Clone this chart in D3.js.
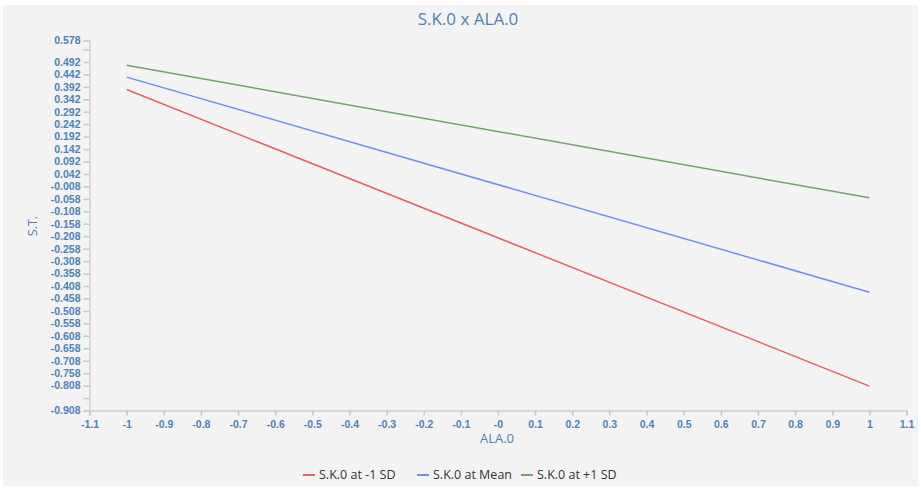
<!DOCTYPE html>
<html><head><meta charset="utf-8">
<script src="https://cdn.jsdelivr.net/npm/d3@7"></script>
<style>
html,body{margin:0;padding:0;background:#fff;}
svg{display:block;font-family:"Open Sans","Noto Sans",sans-serif;}
</style></head>
<body>
<svg id="chart" width="921" height="489"></svg>
<script>
const seriesNames = ["S.K.0 at -1 SD", "S.K.0 at Mean", "S.K.0 at +1 SD"];
const seriesColors = ["#e86060", "#7090f0", "#72a36c"];
const xValues = [-1, 1];
const lowValues = [0.381, -0.810];
const meanValues = [0.431, -0.433];
const highValues = [0.479, -0.054];
const yTickValues = [-0.908,-0.858,-0.808,-0.758,-0.708,-0.658,-0.608,-0.558,-0.508,-0.458,-0.408,-0.358,-0.308,-0.258,-0.208,-0.158,-0.108,-0.058,-0.008,0.042,0.092,0.142,0.192,0.242,0.292,0.342,0.392,0.442,0.492,0.542,0.578];
const yTickLabels = ["-0.908","","-0.808","-0.758","-0.708","-0.658","-0.608","-0.558","-0.508","-0.458","-0.408","-0.358","-0.308","-0.258","-0.208","-0.158","-0.108","-0.058","-0.008","0.042","0.092","0.142","0.192","0.242","0.292","0.342","0.392","0.442","0.492","","0.578"];
const xTickValues = [-1.1,-1,-0.9,-0.8,-0.7,-0.6,-0.5,-0.4,-0.3,-0.2,-0.1,0,0.1,0.2,0.3,0.4,0.5,0.6,0.7,0.8,0.9,1,1.1];
const xTickLabels = ["-1.1","-1","-0.9","-0.8","-0.7","-0.6","-0.5","-0.4","-0.3","-0.2","-0.1","-0","0.1","0.2","0.3","0.4","0.5","0.6","0.7","0.8","0.9","1","1.1"];

const txt = "#4d82b8";
const svg = d3.select("#chart");
svg.append("rect").attr("x",3).attr("y",5).attr("width",915).attr("height",481).attr("fill","#f3f3f3");

const x = d3.scaleLinear().domain([-1.1,1.1]).range([89.5,906.5]);
const y = d3.scaleLinear().domain([-0.908,0.578]).range([410.5,40.5]);

const yAxis = svg.append("g").attr("transform","translate(89.5,0)")
  .call(d3.axisLeft(y).tickValues(yTickValues).tickFormat((d,i)=>yTickLabels[i]).tickSize(6).tickPadding(3));
const xAxis = svg.append("g").attr("transform","translate(0,410.5)")
  .call(d3.axisBottom(x).tickValues(xTickValues).tickFormat((d,i)=>xTickLabels[i]).tickSize(5).tickPadding(5));
[yAxis,xAxis].forEach(g=>{
  g.select(".domain").attr("stroke","#d0d0d0").attr("stroke-width",1.5);
  g.selectAll(".tick line").attr("stroke","#c8c8c8").attr("stroke-width",1.5);
  g.selectAll(".tick text").attr("fill",txt).attr("font-size","10.5px").attr("font-weight","600");
});

const allSeries = [lowValues, meanValues, highValues];
const line = d3.line().x((d,i)=>x(xValues[i])).y(d=>y(d));
allSeries.forEach((vals,k)=>{
  svg.append("path").datum(vals).attr("d",line).attr("fill","none")
    .attr("stroke",seriesColors[k]).attr("stroke-width",1.5);
});

svg.append("text").attr("x",468).attr("y",25).attr("text-anchor","middle")
  .attr("fill",txt).attr("font-size","17px").text("S.K.0 x ALA.0");
svg.append("text").attr("transform","translate(37,226) rotate(-90)").attr("text-anchor","middle")
  .attr("fill",txt).attr("font-size","12.5px").text("S.T.");
svg.append("text").attr("x",497).attr("y",443).attr("text-anchor","middle")
  .attr("fill",txt).attr("font-size","13px").text("ALA.0");

const legendX = [303, 417, 521];
const lg = svg.append("g");
seriesNames.forEach((n,k)=>{
  lg.append("line").attr("x1",legendX[k]).attr("x2",legendX[k]+12).attr("y1",475).attr("y2",475)
    .attr("stroke",seriesColors[k]).attr("stroke-width",2);
  lg.append("text").attr("x",legendX[k]+16).attr("y",479).attr("fill","#333")
    .attr("font-size","12.5px").text(n);
});
</script>
</body></html>
